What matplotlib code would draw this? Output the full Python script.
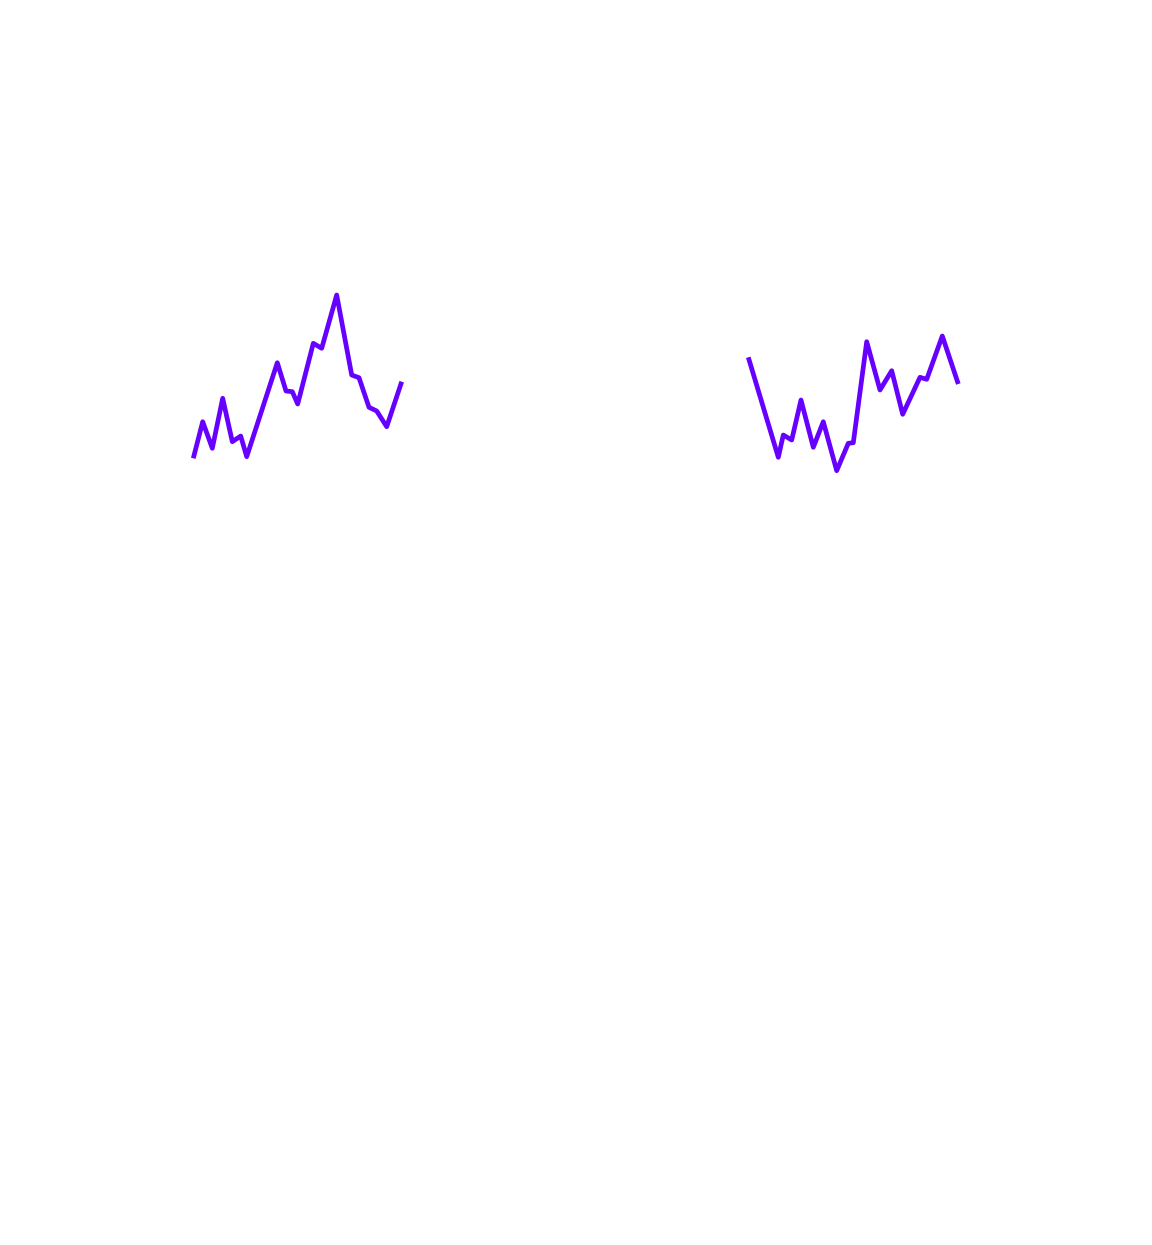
import matplotlib
matplotlib.use("Agg")
import matplotlib.pyplot as plt

# left sparkline
left_x = [0, 9.4, 19, 29.4, 39, 47.4, 53.4, 84, 92.7, 99, 104.4, 120, 128.4,
          143.4, 158.4, 165.7, 175.7, 183.4, 193.4, 208.4]
left_y = [41.7, 78.3, 51.7, 101.7, 58.3, 64, 43.3, 137.3, 109, 108.3, 96,
          156.7, 151.7, 205, 125, 122.3, 92.7, 89, 73.3, 118.3]

# right sparkline
right_x = [0, 30, 35, 43.4, 52.7, 65, 75, 88.4, 100, 105, 118.4, 131.7,
           143.4, 154.4, 171.7, 178.4, 194, 210]
right_y = [142.7, 42.7, 65, 60, 100, 52.7, 78.3, 29.3, 56.7, 57.3, 158.3,
           110, 129.3, 85.7, 122.7, 120.7, 164, 116]

line_color = "#6600ff"

fig = plt.figure(figsize=(11.52, 12.45), dpi=100)
fig.patch.set_facecolor("white")

W, H = 1152, 1245


def spark(px0, py_top, px_w, xs, ys):
    ymin, ymax = min(ys), max(ys)
    ph = ymax - ymin
    ax = fig.add_axes([px0 / W, (H - py_top - ph) / H, px_w / W, ph / H])
    ax.plot(xs, ys, color=line_color, lw=3.4, solid_joinstyle="round",
            solid_capstyle="butt", clip_on=False)
    ax.set_xlim(min(xs), max(xs))
    ax.set_ylim(ymin, ymax)
    ax.axis("off")
    return ax


spark(193.3, 295, 208.4, left_x, left_y)
spark(748.3, 336, 210, right_x, right_y)

fig.savefig("out.png", dpi=100, facecolor="white")
